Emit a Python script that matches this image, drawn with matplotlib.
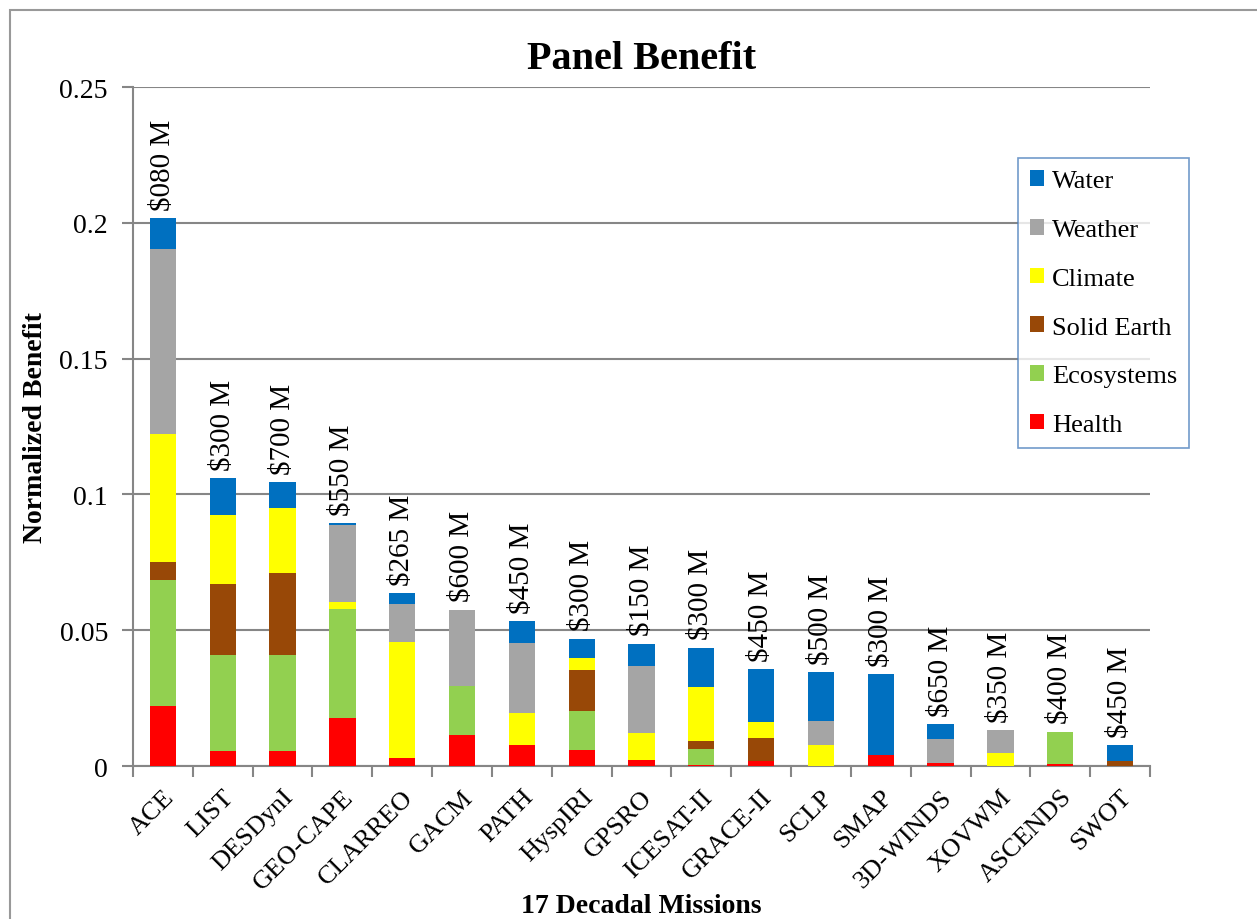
import matplotlib.pyplot as plt
import numpy as np
from matplotlib.patches import Rectangle

missions = ['ACE', 'LIST', 'DESDynI', 'GEO-CAPE', 'CLARREO', 'GACM', 'PATH', 'HyspIRI',
            'GPSRO', 'ICESAT-II', 'GRACE-II', 'SCLP', 'SMAP', '3D-WINDS', 'XOVWM',
            'ASCENDS', 'SWOT']
costs = ['$080 M', '$300 M', '$700 M', '$550 M', '$265 M', '$600 M', '$450 M', '$300 M',
         '$150 M', '$300 M', '$450 M', '$500 M', '$300 M', '$650 M', '$350 M',
         '$400 M', '$450 M']

# segment values, bottom to top
health      = [0.0222, 0.0056, 0.0056, 0.0175, 0.0030, 0.0115, 0.0076, 0.0058,
               0.0023, 0.0005, 0.0020, 0.0000, 0.0042, 0.0012, 0.0000, 0.0009, 0.0000]
ecosystems  = [0.0464, 0.0353, 0.0353, 0.0402, 0.0000, 0.0178, 0.0000, 0.0145,
               0.0000, 0.0059, 0.0000, 0.0000, 0.0000, 0.0000, 0.0000, 0.0118, 0.0000]
solid_earth = [0.0067, 0.0262, 0.0303, 0.0000, 0.0000, 0.0000, 0.0000, 0.0149,
               0.0000, 0.0027, 0.0083, 0.0000, 0.0000, 0.0000, 0.0000, 0.0000, 0.0020]
climate     = [0.0470, 0.0255, 0.0238, 0.0026, 0.0427, 0.0000, 0.0120, 0.0046,
               0.0100, 0.0200, 0.0060, 0.0078, 0.0000, 0.0000, 0.0047, 0.0000, 0.0000]
weather     = [0.0680, 0.0000, 0.0000, 0.0286, 0.0139, 0.0283, 0.0256, 0.0000,
               0.0244, 0.0000, 0.0000, 0.0086, 0.0000, 0.0088, 0.0086, 0.0000, 0.0000]
water       = [0.0115, 0.0135, 0.0097, 0.0004, 0.0042, 0.0000, 0.0082, 0.0071,
               0.0084, 0.0145, 0.0193, 0.0183, 0.0298, 0.0055, 0.0000, 0.0000, 0.0056]

series = [('Health', health, '#FF0000'),
          ('Ecosystems', ecosystems, '#92D050'),
          ('Solid Earth', solid_earth, '#984807'),
          ('Climate', climate, '#FFFF00'),
          ('Weather', weather, '#A5A5A5'),
          ('Water', water, '#0070C0')]

plt.rcParams['font.family'] = ['Liberation Serif', 'DejaVu Serif']

fig = plt.figure(figsize=(12.57, 9.2), dpi=100)
ax = fig.add_axes([0.1058, 0.1663, 0.8091, 0.738])

fig.patches.append(Rectangle((0.008, -0.5), 1.5, 1.5 - 11 / 920, transform=fig.transFigure,
                             fill=False, edgecolor='#999999', linewidth=1.5))

x = np.arange(len(missions))
bottom = np.zeros(len(missions))
handles = {}
for name, vals, col in series:
    vals = np.array(vals)
    handles[name] = ax.bar(x, vals, 0.44, bottom=bottom, color=col, label=name, zorder=3)
    bottom += vals

for i, c in enumerate(costs):
    ax.text(x[i], bottom[i] + 0.003, c, rotation=90, ha='center', va='bottom', fontsize=21)

ax.set_xlim(-0.5, len(missions) - 0.5)
ax.set_ylim(0, 0.25)
ax.set_yticks([0, 0.05, 0.1, 0.15, 0.2, 0.25])
ax.set_yticklabels(['0', '0.05', '0.1', '0.15', '0.2', '0.25'], fontsize=20)
ax.set_xticks(np.arange(-0.5, len(missions), 1.0))
ax.set_xticklabels([])
ax.set_xticks(x, minor=True)
ax.set_xticklabels(missions, minor=True, rotation=45, ha='right', va='top',
                   rotation_mode='anchor', fontsize=19)
ax.tick_params(axis='x', which='minor', length=0, pad=14)
ax.tick_params(axis='x', which='major', length=8, color='#868686', width=1.5, direction='out')
ax.tick_params(axis='y', length=8, color='#868686', width=1.5, pad=10)
ax.grid(axis='y', color='#868686', linewidth=1.5, zorder=0)
ax.set_axisbelow(True)
for s in ['top', 'right']:
    ax.spines[s].set_visible(False)
for s in ['left', 'bottom']:
    ax.spines[s].set_color('#868686')
    ax.spines[s].set_linewidth(1.5)

ax.set_title('Panel Benefit', fontsize=29, fontweight='bold', pad=14)
ax.set_ylabel('Normalized Benefit', fontsize=20, fontweight='bold', labelpad=8)
ax.set_xlabel('17 Decadal Missions', fontsize=20, fontweight='bold', labelpad=0)

order = ['Water', 'Weather', 'Climate', 'Solid Earth', 'Ecosystems', 'Health']
leg = ax.legend([handles[n] for n in order], order, loc='upper left',
                bbox_to_anchor=(0.870, 0.895), fontsize=19, frameon=True, fancybox=False,
                handlelength=0.55, handleheight=0.55, handletextpad=0.3, labelspacing=1.0,
                borderpad=0.45, borderaxespad=0)
leg.get_frame().set_edgecolor('#4F81BD')
leg.get_frame().set_linewidth(1.2)

fig.savefig('out.png', dpi=100)
